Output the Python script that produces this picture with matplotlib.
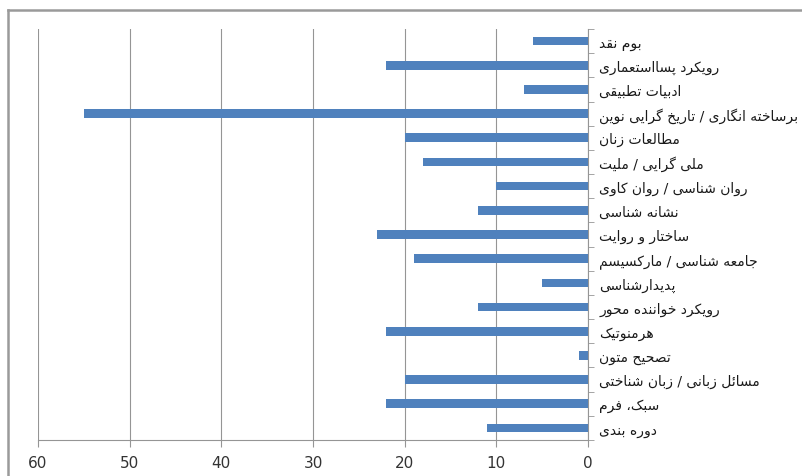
import unicodedata
import numpy as np
import matplotlib
matplotlib.use('Agg')
import matplotlib.pyplot as plt
from matplotlib.lines import Line2D

plt.rcParams['font.family'] = ['DejaVu Sans']

# categories, top to bottom
labels = [
    'بوم نقد',
    'رویکرد پسااستعماری',
    'ادبیات تطبیقی',
    'برساخته انگاری / تاریخ گرایی نوین',
    'مطالعات زنان',
    'ملی گرایی / ملیت',
    'روان شناسی / روان کاوی',
    'نشانه شناسی',
    'ساختار و روایت',
    'جامعه شناسی / مارکسیسم',
    'پدیدارشناسی',
    'رویکرد خواننده محور',
    'هرمنوتیک',
    'تصحیح متون',
    'مسائل زبانی / زبان شناختی',
    'سبک، فرم',
    'دوره بندی',
]
values = [6, 22, 7, 55, 20, 18, 10, 12, 23, 19, 5, 12, 22, 1, 20, 22, 11]
x_ticks = [0, 10, 20, 30, 40, 50, 60]


def forms(ch):
    try:
        name = unicodedata.name(ch)
    except ValueError:
        return None
    if not name.startswith('ARABIC LETTER'):
        return None
    f = {}
    for k in ('ISOLATED', 'FINAL', 'INITIAL', 'MEDIAL'):
        try:
            f[k] = unicodedata.lookup(name + ' ' + k + ' FORM')
        except KeyError:
            pass
    return f or None


def shape(text):
    # simple arabic/persian shaping + reversal, since matplotlib has no RTL layout
    chars = [c for c in text if unicodedata.category(c) != 'Mn']
    out = []
    i = 0
    while i < len(chars):
        c = chars[i]
        f = forms(c)
        if f is None:
            out.append(c)
            i += 1
            continue
        pf = forms(chars[i - 1]) if i > 0 else None
        join_prev = pf is not None and 'INITIAL' in pf and 'FINAL' in f
        # lam-alef ligature
        if c == 'ل' and i + 1 < len(chars) and chars[i + 1] == 'ا':
            out.append('\uFEFC' if join_prev else '\uFEFB')
            i += 2
            continue
        nf = forms(chars[i + 1]) if i + 1 < len(chars) else None
        join_next = nf is not None and 'INITIAL' in f and 'FINAL' in nf
        if join_prev and join_next:
            out.append(f.get('MEDIAL', c))
        elif join_prev:
            out.append(f.get('FINAL', c))
        elif join_next:
            out.append(f.get('INITIAL', c))
        else:
            out.append(f.get('ISOLATED', c))
        i += 1
    return ''.join(reversed(out))


fig = plt.figure(figsize=(8.02, 4.77), dpi=100)
ax = fig.add_axes([38 / 802, 1 - 441 / 477, 550 / 802, 411 / 477])

y = np.arange(len(labels))
ax.barh(y, values, height=0.36, color='#4F81BD', zorder=3)

ax.set_xlim(60, 0)
ax.set_ylim(len(labels) - 0.5, -0.5)
ax.set_xticks(x_ticks)
ax.set_xticklabels([str(t) for t in x_ticks], fontsize=11, color='#333333')
ax.grid(axis='x', color='#959595', linewidth=0.8, zorder=0)

ax.yaxis.tick_right()
ax.set_yticks(y)
ax.set_yticklabels([shape(l) for l in labels], fontsize=10, color='#1a1a1a')
ax.set_yticks(np.arange(len(labels) + 1) - 0.5, minor=True)
ax.tick_params(axis='y', which='major', length=0, pad=8)
ax.tick_params(axis='y', which='minor', length=4, color='#959595', direction='out')
ax.tick_params(axis='x', length=5, color='#959595', direction='out', pad=6)

for s in ('top', 'left'):
    ax.spines[s].set_visible(False)
ax.spines['bottom'].set_color('#959595')
ax.spines['right'].set_color('#959595')

# outer chart frame
fig.add_artist(Line2D([8 / 802, 1], [1 - 11 / 477] * 2, color='#9a9a9a', linewidth=1.8))
fig.add_artist(Line2D([8 / 802] * 2, [0, 1 - 11 / 477], color='#9a9a9a', linewidth=1.8))

fig.savefig('out.png', dpi=100)
